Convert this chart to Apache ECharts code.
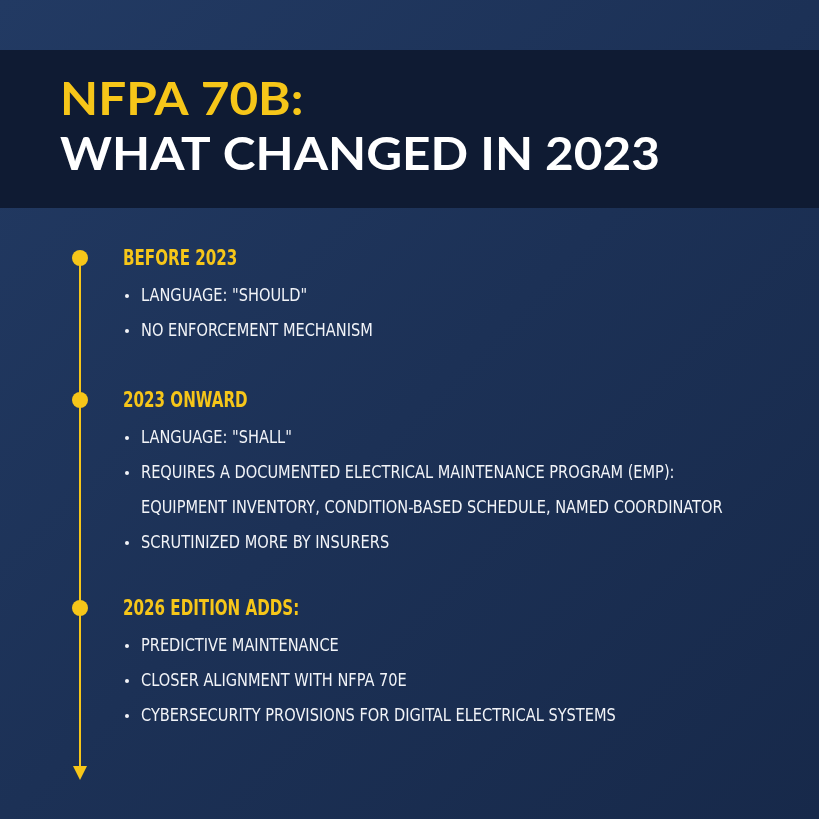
<!DOCTYPE html>
<html><head><meta charset="utf-8">
<script src="https://cdn.jsdelivr.net/npm/echarts@6/dist/echarts.min.js"></script>
<style>html,body{margin:0;padding:0;background:#1b2d4f}#c{width:819px;height:819px}</style>
</head><body><div id="c"></div>
<script>
const titleLines = ["NFPA 70B:", "WHAT CHANGED IN 2023"];
const sectionTitles = ["BEFORE 2023", "2023 ONWARD", "2026 EDITION ADDS:"];
const sectionBullets = [
  ["LANGUAGE: \"SHOULD\"", "NO ENFORCEMENT MECHANISM"],
  ["LANGUAGE: \"SHALL\"", "REQUIRES A DOCUMENTED ELECTRICAL MAINTENANCE PROGRAM (EMP):", "EQUIPMENT INVENTORY, CONDITION-BASED SCHEDULE, NAMED COORDINATOR", "SCRUTINIZED MORE BY INSURERS"],
  ["PREDICTIVE MAINTENANCE", "CLOSER ALIGNMENT WITH NFPA 70E", "CYBERSECURITY PROVISIONS FOR DIGITAL ELECTRICAL SYSTEMS"]
];
const noBullet = [[false,false],[false,false,true,false],[false,false,false]];
const sectionY = [258, 400, 608];
const rowGap = 35;

const YEL = '#f6c619', WHITE = '#f2f4f8';
const g = [];
g.push({type:'rect', shape:{x:0,y:0,width:819,height:819}, style:{fill:{type:'linear',x:0,y:0,x2:1,y2:1,colorStops:[{offset:0,color:'#223a63'},{offset:0.5,color:'#1c3156'},{offset:1,color:'#17294a'}]}}});
g.push({type:'rect', shape:{x:0,y:50,width:819,height:158}, style:{fill:'#0f1b33'}});
g.push({type:'text', x:60, y:100, scaleX:1.1, style:{text:titleLines[0], fill:YEL, font:'bold 45px Lato, "Open Sans", sans-serif', textVerticalAlign:'middle'}});
g.push({type:'text', x:60, y:155, scaleX:1.1, style:{text:titleLines[1], fill:'#ffffff', font:'bold 45px Lato, "Open Sans", sans-serif', textVerticalAlign:'middle'}});
g.push({type:'line', shape:{x1:80,y1:258,x2:80,y2:768}, style:{stroke:YEL, lineWidth:2}});
g.push({type:'polygon', shape:{points:[[73,766],[87,766],[80,780]]}, style:{fill:YEL}});
sectionTitles.forEach((t,i)=>{
  const y0 = sectionY[i];
  g.push({type:'circle', shape:{cx:80,cy:y0,r:8}, style:{fill:YEL}});
  g.push({type:'text', x:123, y:y0+2, scaleX:0.8, style:{text:t, fill:YEL, font:'bold 21px "DejaVu Sans Condensed", sans-serif', textVerticalAlign:'middle'}});
  sectionBullets[i].forEach((b,j)=>{
    const y = y0 + 38 + j*rowGap;
    if(!noBullet[i][j]) g.push({type:'circle', shape:{cx:127,cy:y,r:2}, style:{fill:WHITE}});
    g.push({type:'text', x:141, y:y, scaleX:0.9, style:{text:b, fill:WHITE, font:'18px "DejaVu Sans Condensed", sans-serif', textVerticalAlign:'middle'}});
  });
});
const chart = echarts.init(document.getElementById('c'));
chart.setOption({graphic:{elements:g}});
</script></body></html>
